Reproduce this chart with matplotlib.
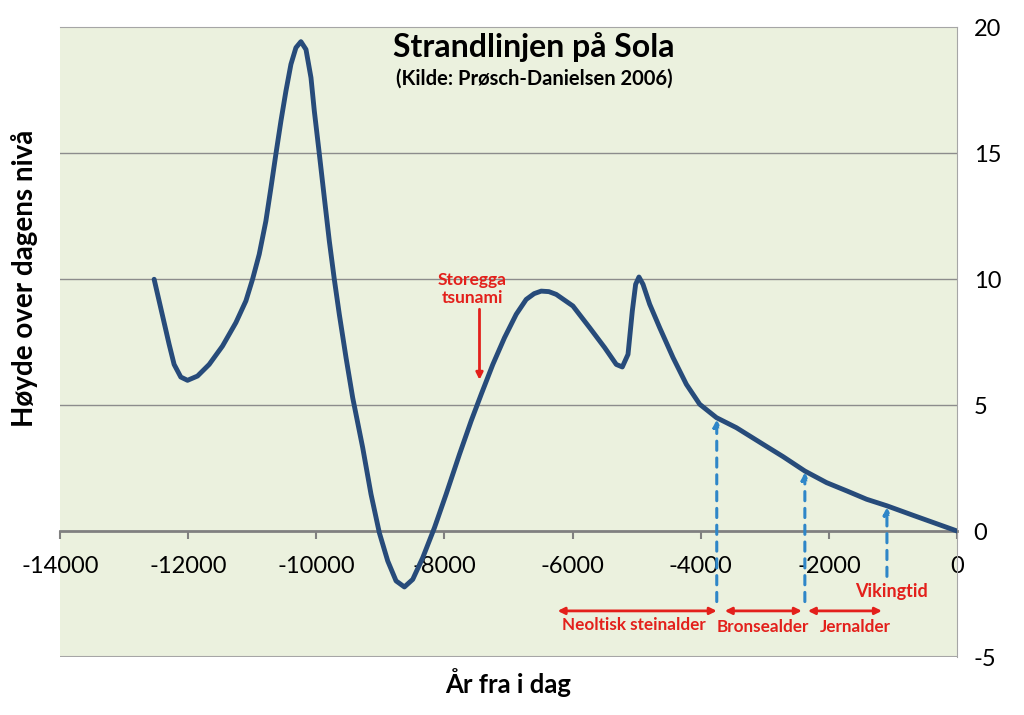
import matplotlib
matplotlib.use("Agg")
import matplotlib.pyplot as plt

plt.rcParams['font.family'] = ['Lato', 'DejaVu Sans']

# strandlinje (år fra i dag, høyde i m), lest av fra figuren
years = [-12531, -12453, -12375, -12297, -12219, -12115, -12010, -11854, -11672,
         -11464, -11255, -11099, -10995, -10891, -10787, -10708, -10630, -10552,
         -10474, -10396, -10318, -10240, -10161, -10083, -10031, -9953, -9875,
         -9797, -9719, -9641, -9536, -9432, -9276, -9146, -9016, -8885,
         -8755, -8625, -8495, -8339, -8156, -7974, -7766, -7583, -7427, -7245,
         -7063, -6880, -6724, -6600, -6490, -6370, -6255, -5995, -5734, -5500,
         -5318, -5224, -5135, -5068, -5016, -4964, -4901, -4797, -4641, -4432,
         -4224, -4016, -3755, -3443, -3026, -2714, -2375, -2036, -1719, -1411,
         -1094, -682, 0]
height = [9.99, 9.13, 8.27, 7.41, 6.61, 6.11, 5.98, 6.15, 6.61,
          7.34, 8.27, 9.13, 9.99, 10.98, 12.30, 13.62, 14.97, 16.27,
          17.46, 18.52, 19.18, 19.42, 19.11, 17.99, 16.67, 14.97, 13.23,
          11.51, 9.99, 8.60, 6.88, 5.29, 3.31, 1.46, -0.07, -1.19,
          -1.98, -2.22, -1.92, -1.06, 0.13, 1.46, 3.04, 4.37, 5.42, 6.61,
          7.67, 8.60, 9.19, 9.42, 9.52, 9.50, 9.39, 8.93, 8.07, 7.28,
          6.61, 6.51, 7.01, 8.73, 9.79, 10.08, 9.79, 9.00, 8.07, 6.88,
          5.82, 5.03, 4.50, 4.10, 3.44, 2.95, 2.38, 1.92, 1.59, 1.26,
          1.0, 0.62, 0.0]

# perioder
periods = ["Neoltisk steinalder", "Bronsealder", "Jernalder"]
period_start = [-6234, -3625, -2328]
period_end = [-3750, -2422, -1172]
period_text_x = [-5040, -3030, -1590]
period_text_y = [-3.72, -3.8, -3.8]

# markerte årstall (stiplede piler)
mark_x = [-3750, -2375, -1094]
mark_y = [4.48, 2.38, 1.0]
mark_bottom = [-2.8, -2.8, -1.8]

xticks = [-14000, -12000, -10000, -8000, -6000, -4000, -2000, 0]
yticks = [-5, 0, 5, 10, 15, 20]

red = '#E3201B'
blue = '#2E86C8'

fig = plt.figure(figsize=(10.24, 7.15), dpi=100)
ax = fig.add_axes([0.0586, 0.0811, 0.876, 0.8811])
ax.set_facecolor('#EBF1DE')
ax.set_xlim(-14000, 0)
ax.set_ylim(-5, 20)

for yv in [5, 10, 15]:
    ax.axhline(yv, color='#8C8C8C', lw=1, zorder=1)
ax.axhline(-5, color='#A6A6A6', lw=1.5, zorder=1)

ax.plot(years, height, color='#274B7A', lw=3.5, solid_joinstyle='round',
        solid_capstyle='round', zorder=4)

ax.spines['left'].set_visible(False)
ax.spines['top'].set_color('#A6A6A6')
ax.spines['right'].set_color('#A6A6A6')
ax.spines['bottom'].set_position(('data', 0))
ax.spines['bottom'].set_color('#808080')
ax.spines['bottom'].set_linewidth(2)

ax.set_xticks(xticks)
ax.set_xticklabels([str(v) for v in xticks], fontsize=17)
ax.tick_params(axis='x', direction='out', length=6, width=1.5, color='#808080', pad=12)
ax.yaxis.tick_right()
ax.set_yticks(yticks)
ax.set_yticklabels([str(v) for v in yticks], fontsize=17)
ax.tick_params(axis='y', length=0, pad=12)

# stiplede piler
for mx, my, mb in zip(mark_x, mark_y, mark_bottom):
    ax.annotate('', xy=(mx, my - 0.05), xytext=(mx, mb),
                arrowprops=dict(arrowstyle='-|>', color=blue, lw=2.2, ls=(0, (3, 2.5)),
                                mutation_scale=10, shrinkA=0, shrinkB=0), zorder=5)

# periodepiler
for name, s, e, tx, ty in zip(periods, period_start, period_end, period_text_x, period_text_y):
    ax.annotate('', xy=(e, -3.17), xytext=(s, -3.17),
                arrowprops=dict(arrowstyle='<|-|>', color=red, lw=2,
                                mutation_scale=10, shrinkA=0, shrinkB=0), zorder=5)
    ax.text(tx, ty, name, color=red, fontsize=12.3, fontweight='bold',
            ha='center', va='center')
ax.text(-1030, -2.42, "Vikingtid", color=red, fontsize=13, fontweight='bold',
        ha='center', va='center')

# Storegga
ax.text(-7560, 9.6, "Storegga\ntsunami", color=red, fontsize=12.5, fontweight='bold',
        ha='center', va='center', linespacing=1.15)
ax.annotate('', xy=(-7453, 6.0), xytext=(-7453, 8.8),
            arrowprops=dict(arrowstyle='-|>', color=red, lw=2,
                            mutation_scale=10, shrinkA=0, shrinkB=0), zorder=5)

fig.text(0.5215, 0.934, "Strandlinjen på Sola", fontsize=23, fontweight='bold',
         ha='center', va='center')
fig.text(0.5215, 0.8895, "(Kilde: Prøsch-Danielsen 2006)", fontsize=14.5, fontweight='bold',
         ha='center', va='center')
fig.text(0.496, 0.046, "År fra i dag", fontsize=18.5, fontweight='bold',
         ha='center', va='center')
fig.text(0.024, 0.611, "Høyde over dagens nivå", fontsize=20, fontweight='bold',
         ha='center', va='center', rotation=90)

fig.savefig("out.png", dpi=100)
